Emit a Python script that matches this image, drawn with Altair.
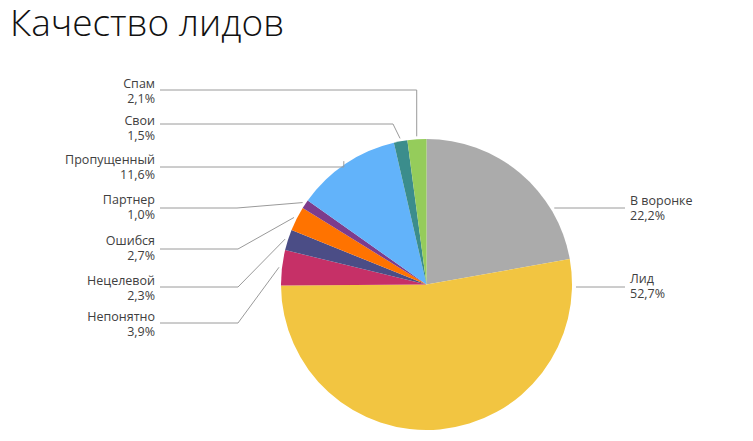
import math
import pandas as pd
import altair as alt

# slices, clockwise from 12 o'clock
categories = ["В воронке", "Лид", "Непонятно", "Нецелевой", "Ошибся",
              "Партнер", "Пропущенный", "Свои", "Спам"]
shares = [22.2, 52.7, 3.9, 2.3, 2.7, 1.0, 11.6, 1.5, 2.1]
colors = ["#ababab", "#f2c541", "#c63067", "#4b4d86", "#ff7300",
          "#7d3c8c", "#62b3fa", "#3b8d8c", "#95cc5b"]

# label layout (chart pixels); label_y is the first text line
W, H = 737, 425
cx, cy, r = 418.5, 276.5, 145.5
side = ["right", "right", "left", "left", "left", "left", "left", "left", "left"]
label_y = [193, 271, 309, 272.5, 232.5, 192, 151.5, 112.5, 76]
line_y = [200, 279, 315, 279, 241, 200, 159, 116, 82]
elbow_x = [None, None, 230, 230, 230, 229, None, 385, None]
left_x, right_x = 152, 617

df = pd.DataFrame({"cat": categories, "share": shares, "idx": range(len(shares))})
df["text"] = [f"{c}\n{s:.1f}%".replace(".", ",") for c, s in zip(categories, shares)]

# leader lines
rows = []
cum = 0
for i, (c, s) in enumerate(zip(categories, shares)):
    mid = (cum + s / 2) / 100 * 2 * math.pi
    cum += s
    ly = line_y[i]
    if side[i] == "right":
        x0 = cx + math.sqrt(r ** 2 - (ly - cy) ** 2) + 4
        pts = [(x0, ly), (right_x, ly)]
    else:
        ax = cx + (r + 3) * math.sin(mid)
        ay = cy - (r + 3) * math.cos(mid)
        ex = ax if elbow_x[i] is None else elbow_x[i]
        pts = [(left_x, ly), (ex, ly), (ax, ay)]
    for k, (x, y) in enumerate(pts):
        rows.append({"cat": c, "seq": k, "x": x, "y": y})
lines = pd.DataFrame(rows)

labels = df.copy()
labels["y"] = label_y
labels["x"] = [right_x + 5 if s == "right" else left_x - 5 for s in side]
labels["align"] = side

xs = alt.Scale(domain=[0, W], nice=False, zero=False)
ys = alt.Scale(domain=[0, H], nice=False, zero=False, reverse=True)

pie = alt.Chart(df).mark_arc(radius=r).encode(
    theta=alt.Theta("share:Q", stack=True),
    order=alt.Order("idx:Q"),
    color=alt.Color("cat:N", scale=alt.Scale(domain=categories, range=colors), legend=None),
    x=alt.value(cx),
    y=alt.value(cy),
)

leader = alt.Chart(lines).mark_line(color="#9a9a9a", strokeWidth=1).encode(
    x=alt.X("x:Q", scale=xs, axis=None),
    y=alt.Y("y:Q", scale=ys, axis=None),
    detail="cat:N",
    order="seq:Q",
)

txt_left = alt.Chart(labels[labels["align"] == "left"]).mark_text(
    align="right", baseline="middle", lineBreak="\n", lineHeight=15,
    font="Open Sans", fontSize=12.5, color="#404040",
).encode(x=alt.X("x:Q", scale=xs), y=alt.Y("y:Q", scale=ys), text="text:N")

txt_right = alt.Chart(labels[labels["align"] == "right"]).mark_text(
    align="left", baseline="middle", lineBreak="\n", lineHeight=15,
    font="Open Sans", fontSize=12.5, color="#404040",
).encode(x=alt.X("x:Q", scale=xs), y=alt.Y("y:Q", scale=ys), text="text:N")

title = alt.Chart(pd.DataFrame({"t": ["Качество лидов"]})).mark_text(
    align="left", baseline="alphabetic", font="Open Sans", fontSize=37,
    fontWeight=300, color="#111111",
).encode(x=alt.value(2), y=alt.value(28), text="t:N")

chart = alt.layer(pie, leader, txt_left, txt_right, title).properties(
    width=W, height=H, padding=0, autosize=alt.AutoSizeParams(type="none")
).configure_view(stroke=None)

chart.save("out.html", embed_options={"renderer": "svg", "actions": False})
